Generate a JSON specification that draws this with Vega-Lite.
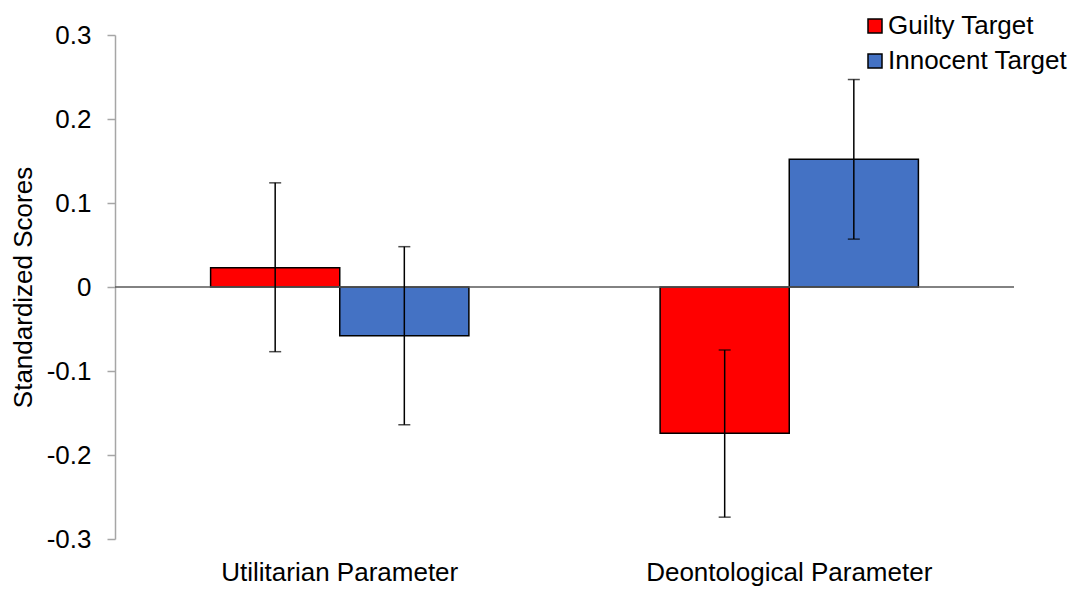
{
  "$schema": "https://vega.github.io/schema/vega-lite/v6.json",
  "autosize": {"type": "none"},
  "padding": {"left": 115, "top": 35, "right": 66, "bottom": 50},
  "width": 899,
  "height": 504,
  "config": {
    "view": {"stroke": null},
    "font": "Liberation Sans"
  },
  "data": {
    "values": [
      {"param": "Utilitarian Parameter", "target": "Guilty Target", "score": 0.023, "lo": -0.077, "hi": 0.124},
      {"param": "Utilitarian Parameter", "target": "Innocent Target", "score": -0.058, "lo": -0.164, "hi": 0.048},
      {"param": "Deontological Parameter", "target": "Guilty Target", "score": -0.174, "lo": -0.274, "hi": -0.075},
      {"param": "Deontological Parameter", "target": "Innocent Target", "score": 0.152, "lo": 0.057, "hi": 0.247}
    ]
  },
  "encoding": {
    "x": {
      "field": "param", "type": "nominal",
      "sort": ["Utilitarian Parameter", "Deontological Parameter"],
      "scale": {"paddingInner": 0.4254, "paddingOuter": 0.2127},
      "axis": {"title": null, "domain": false, "ticks": false, "labelAngle": 0, "labelFontSize": 26, "labelColor": "#000000", "labelPadding": 20, "labelFont": "Liberation Sans", "labelLimit": 0}
    },
    "xOffset": {
      "field": "target", "type": "nominal",
      "sort": ["Guilty Target", "Innocent Target"],
      "scale": {"paddingInner": 0, "paddingOuter": 0}
    }
  },
  "layer": [
    {
      "mark": {"type": "bar", "stroke": "#000000", "strokeWidth": 1.5},
      "encoding": {
        "y": {
          "field": "score", "type": "quantitative",
          "scale": {"domain": [-0.3, 0.3], "nice": false, "zero": false},
          "axis": {
            "title": "Standardized Scores", "titleFontSize": 26, "titleFontWeight": "normal", "titleColor": "#000000", "titlePadding": 10, "titleFont": "Liberation Sans",
            "values": [-0.3, -0.2, -0.1, 0, 0.1, 0.2, 0.3],
            "labelExpr": "'' + datum.value",
            "labelFontSize": 26, "labelColor": "#000000", "labelPadding": 16, "labelFont": "Liberation Sans",
            "domainColor": "#a6a6a6", "domainWidth": 1.5, "tickColor": "#a6a6a6", "tickSize": 8, "tickWidth": 1.5, "grid": false
          }
        },
        "color": {
          "field": "target", "type": "nominal",
          "scale": {"domain": ["Guilty Target", "Innocent Target"], "range": ["#ff0000", "#4472c4"]},
          "legend": {
            "title": null, "orient": "none", "legendX": 747, "legendY": -22,
            "symbolType": "square", "symbolSize": 196, "symbolStrokeColor": "#000000", "symbolStrokeWidth": 1.5, "symbolOpacity": 1,
            "labelFontSize": 26, "labelColor": "#000000", "labelFont": "Liberation Sans", "labelOffset": 0, "labelLimit": 0, "rowPadding": 9, "padding": 0
          }
        }
      }
    },
    {
      "data": {"values": [{"z": 0}]},
      "mark": {"type": "rule", "color": "#595959", "strokeWidth": 1.5},
      "encoding": {"y": {"field": "z", "type": "quantitative"}, "x": null, "xOffset": null}
    },
    {
      "mark": {"type": "rule", "color": "#000000", "strokeWidth": 1.5},
      "encoding": {
        "y": {"field": "lo", "type": "quantitative"},
        "y2": {"field": "hi"}
      }
    },
    {
      "mark": {"type": "tick", "color": "#000000", "thickness": 1.5, "size": 12, "orient": "horizontal"},
      "encoding": {"y": {"field": "lo", "type": "quantitative"}}
    },
    {
      "mark": {"type": "tick", "color": "#000000", "thickness": 1.5, "size": 12, "orient": "horizontal"},
      "encoding": {"y": {"field": "hi", "type": "quantitative"}}
    }
  ]
}
